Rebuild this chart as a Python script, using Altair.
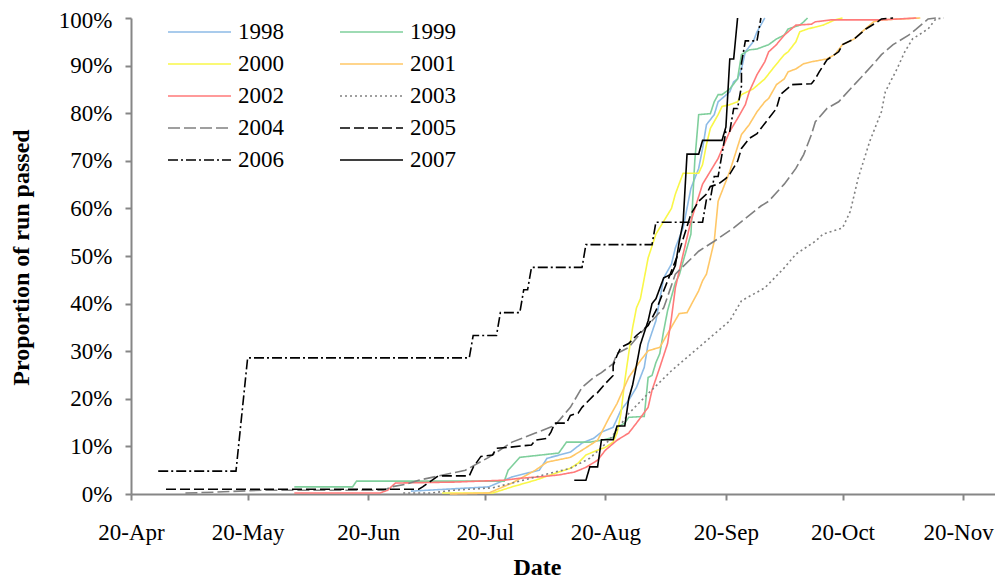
import altair as alt
import pandas as pd

SEASON_YEAR = 2001  # all runs plotted on a common season calendar

years = ["1998", "1999", "2000", "2001", "2002", "2003", "2004", "2005", "2006", "2007"]

# dates (MM-DD) and cumulative proportion of run passed (%)
d1998 = ["07-01", "07-21", "07-27", "08-03", "08-05", "08-11", "08-14", "08-17", "08-19", "08-22",
         "08-24", "08-26", "08-28", "08-30", "08-31", "09-02", "09-04", "09-06", "09-07", "09-09",
         "09-11", "09-13", "09-14", "09-15", "09-17", "09-18", "09-21", "09-22", "09-23", "09-24",
         "09-25", "09-27", "09-28", "09-30"]
p1998 = [0.6, 1.5, 3.6, 5.0, 7.5, 8.8, 10.7, 11.7, 13.0, 14.0,
         17.6, 19.7, 22.4, 26.6, 31.6, 36.4, 45.4, 48.3, 51.7, 55.9,
         64.2, 68.4, 72.6, 77.6, 79.7, 82.4, 84.5, 86.6, 87.2, 89.3,
         92.9, 95.0, 97.1, 100.0]

d1999 = ["06-01", "06-16", "06-17", "07-25", "07-26", "07-29", "08-08", "08-10", "08-16", "08-19",
         "08-22", "08-23", "08-25", "08-26", "08-30", "08-31", "09-01", "09-02", "09-03", "09-04",
         "09-05", "09-07", "09-08", "09-11", "09-12", "09-13", "09-16", "09-17", "09-18", "09-19",
         "09-21", "09-23", "09-24", "09-26", "09-28", "10-01", "10-03", "10-05", "10-06", "10-09",
         "10-10", "10-11"]
p1999 = [1.5, 1.5, 2.7, 2.7, 5.0, 7.7, 8.6, 10.9, 10.9, 11.3,
         11.9, 14.0, 14.9, 16.1, 16.3, 24.5, 24.9, 27.6, 29.5, 34.3,
         38.5, 44.4, 46.0, 54.6, 70.0, 79.7, 79.9, 82.4, 83.9, 83.9,
         85.1, 87.2, 92.3, 93.3, 93.5, 94.4, 95.6, 96.4, 97.7, 98.5,
         99.2, 100.0]

d2000 = ["07-09", "07-22", "07-27", "08-02", "08-08", "08-11", "08-13", "08-15", "08-18", "08-20",
         "08-22", "08-23", "08-24", "08-25", "08-26", "08-27", "08-28", "08-29", "08-31", "09-02",
         "09-06", "09-07", "09-09", "09-13", "09-14", "09-15", "09-16", "09-18", "09-19", "09-21",
         "09-23", "09-24", "09-27", "09-30", "10-02", "10-05", "10-06", "10-08", "10-09", "10-11",
         "10-13", "10-15", "10-18", "10-20"]
p2000 = [0.2, 0.2, 1.5, 2.9, 4.6, 5.4, 6.5, 8.2, 9.2, 9.8,
         10.9, 12.8, 16.9, 23.8, 29.5, 34.9, 39.1, 41.0, 49.6, 54.6,
         60.0, 63.0, 67.4, 67.4, 69.2, 73.4, 76.8, 79.7, 81.4, 81.8,
         82.4, 83.9, 85.1, 87.2, 89.3, 92.3, 92.9, 95.0, 97.1, 97.7,
         98.1, 98.5, 99.6, 100.0]

d2001 = ["07-11", "07-21", "07-27", "08-02", "08-05", "08-11", "08-14", "08-18", "08-21", "08-23",
         "08-26", "08-29", "08-31", "09-03", "09-05", "09-08", "09-10", "09-13", "09-14", "09-15",
         "09-17", "09-18", "09-21", "09-24", "09-26", "09-28", "09-30", "10-01", "10-03", "10-05",
         "10-06", "10-08", "10-10", "10-12", "10-16", "10-18", "10-20", "10-23", "10-25", "10-28",
         "10-30", "11-09"]
p2001 = [0.0, 0.2, 2.3, 5.0, 6.7, 7.7, 9.2, 11.3, 16.1, 19.0,
         24.5, 28.0, 30.1, 30.8, 33.7, 37.9, 38.1, 42.7, 44.8, 46.2,
         53.1, 61.5, 67.8, 75.5, 77.6, 80.3, 82.4, 83.1, 86.0, 87.2,
         88.7, 89.3, 90.4, 90.8, 91.4, 92.3, 94.4, 95.6, 97.1, 99.2,
         99.6, 100.0]

d2002 = ["06-01", "06-23", "06-25", "06-27", "07-12", "07-25", "07-29", "08-03", "08-08", "08-12",
         "08-15", "08-18", "08-20", "08-23", "08-26", "08-28", "08-31", "09-01", "09-03", "09-05",
         "09-06", "09-07", "09-09", "09-11", "09-14", "09-18", "09-21", "09-23", "09-25", "09-26",
         "09-28", "09-30", "10-01", "10-03", "10-05", "10-08", "10-12", "10-13", "10-17", "10-30",
         "11-08"]
p2002 = [0.2, 0.2, 0.8, 2.3, 2.5, 2.9, 3.3, 3.6, 4.0, 4.6,
         5.6, 7.1, 9.2, 11.3, 12.8, 14.9, 18.2, 21.8, 26.6, 31.6,
         37.0, 43.3, 50.4, 57.3, 65.1, 70.5, 76.2, 78.9, 81.8, 84.5,
         88.1, 90.8, 92.9, 94.4, 96.4, 98.5, 98.7, 99.2, 99.6, 99.6,
         100.0]

d2003 = ["06-29", "07-06", "07-12", "07-22", "07-28", "08-04", "08-11", "08-16", "08-21", "08-26",
         "08-31", "09-06", "09-12", "09-18", "09-21", "09-24", "09-30", "10-05", "10-08", "10-13",
         "10-15", "10-20", "10-22", "10-24", "10-27", "10-30", "10-31", "11-03", "11-05", "11-07",
         "11-11", "11-13", "11-15"]
p2003 = [0.2, 0.2, 0.8, 1.3, 2.5, 4.0, 5.4, 7.5, 11.3, 16.9,
         21.1, 25.9, 30.1, 34.3, 36.4, 40.6, 43.3, 47.5, 50.4, 53.1,
         54.6, 55.9, 59.4, 66.3, 74.1, 80.3, 84.5, 89.3, 92.9, 95.6,
         97.7, 99.8, 100.0]

d2004 = ["05-04", "05-12", "05-24", "06-24", "06-26", "06-30", "07-03", "07-07", "07-15", "07-21",
         "07-27", "08-02", "08-07", "08-11", "08-14", "08-17", "08-19", "08-22", "08-23", "08-26",
         "08-29", "09-01", "09-04", "09-07", "09-13", "09-17", "09-22", "09-29", "10-01", "10-05",
         "10-08", "10-10", "10-12", "10-13", "10-16", "10-19", "10-22", "10-25", "10-28", "10-30",
         "11-02", "11-06", "11-08", "11-11", "11-13"]
p2004 = [0.2, 0.4, 0.8, 0.8, 1.5, 2.1, 2.9, 3.6, 5.0, 7.7,
         10.9, 12.8, 14.4, 18.2, 22.4, 24.5, 25.5, 27.4, 29.5, 30.8,
         33.7, 36.4, 39.1, 46.2, 51.0, 53.1, 55.9, 60.5, 61.5, 65.1,
         68.4, 71.3, 75.5, 78.2, 81.0, 82.4, 85.1, 87.7, 90.4, 92.3,
         94.4, 96.4, 97.7, 99.8, 100.0]

d2005 = ["04-29", "07-03", "07-04", "07-08", "07-16", "07-17", "07-19", "07-22", "07-23", "07-26",
         "08-01", "08-02", "08-05", "08-06", "08-07", "08-10", "08-11", "08-13", "08-14", "08-17",
         "08-18", "08-20", "08-22", "08-22", "08-23", "08-24", "08-26", "08-28", "08-31", "09-02",
         "09-04", "09-08", "09-11", "09-13", "09-15", "09-16", "09-18", "09-20", "09-21", "09-23",
         "09-24", "09-26", "09-28", "09-29", "10-01", "10-03", "10-04", "10-07", "10-12", "10-13",
         "10-14", "10-16", "10-19", "10-20", "10-23", "10-26", "10-29", "10-30", "11-02"]
p2005 = [1.0, 1.0, 1.5, 3.8, 3.8, 5.6, 7.9, 8.2, 9.6, 9.8,
         10.3, 11.3, 11.7, 13.0, 14.9, 14.9, 16.5, 17.0, 18.2, 20.7,
         21.3, 23.2, 24.9, 27.0, 29.1, 30.8, 31.6, 33.3, 35.4, 38.5,
         42.7, 51.0, 58.8, 61.5, 63.0, 64.6, 65.1, 66.3, 67.2, 69.9,
         72.6, 74.7, 75.7, 76.8, 78.9, 81.0, 83.9, 86.0, 86.2, 87.2,
         88.7, 91.2, 92.9, 94.4, 95.6, 97.7, 99.2, 99.8, 100.0]

d2006 = ["04-27", "05-17", "05-20", "07-16", "07-17", "07-23", "07-24", "07-29", "07-30", "07-31",
         "08-01", "08-14", "08-15", "09-01", "09-02", "09-14", "09-15", "09-16", "09-17", "09-18",
         "09-19", "09-20", "09-21", "09-22", "09-23", "09-24", "09-24", "09-25", "09-28", "09-29"]
p2006 = [4.8, 4.8, 28.6, 28.6, 33.3, 33.3, 38.1, 38.1, 42.9, 42.9,
         47.6, 47.6, 52.4, 52.4, 57.1, 57.1, 61.9, 61.9, 66.7, 66.7,
         71.4, 76.2, 76.2, 81.0, 81.0, 85.7, 90.5, 95.2, 95.2, 100.0]

d2007 = ["08-12", "08-15", "08-16", "08-18", "08-19", "08-22", "08-23", "08-25", "08-26", "08-27",
         "08-28", "08-29", "08-31", "09-01", "09-02", "09-04", "09-06", "09-07", "09-08", "09-09",
         "09-10", "09-13", "09-14", "09-19", "09-20", "09-21", "09-22", "09-23"]
p2007 = [2.9, 2.9, 5.7, 5.7, 11.4, 11.4, 14.3, 14.3, 20.0, 22.9,
         27.0, 31.4, 36.4, 40.0, 41.0, 45.4, 46.2, 48.0, 53.0, 57.1,
         71.4, 71.4, 74.3, 74.3, 77.1, 91.4, 91.4, 100.0]

series = {
    "1998": (d1998, p1998), "1999": (d1999, p1999), "2000": (d2000, p2000),
    "2001": (d2001, p2001), "2002": (d2002, p2002), "2003": (d2003, p2003),
    "2004": (d2004, p2004), "2005": (d2005, p2005), "2006": (d2006, p2006),
    "2007": (d2007, p2007),
}

colors = ["#8dbbe6", "#7fcf9c", "#f9f748", "#ffc767", "#ff7a7a",
          "#808080", "#808080", "#000000", "#000000", "#000000"]
dashes = [[1, 0], [1, 0], [1, 0], [1, 0], [1, 0],
          [2, 3], [12, 4], [10, 4], [10, 3, 2, 3], [1, 0]]
widths = [1.6, 1.6, 1.6, 1.6, 1.6, 1.6, 2.2, 2.0, 2.0, 2.0]

tick_months = [4, 5, 6, 7, 8, 9, 10, 11]
y_ticks = [0, 0.1, 0.2, 0.3, 0.4, 0.5, 0.6, 0.7, 0.8, 0.9, 1.0]

rows = []
for yr, (ds, ps) in series.items():
    for i, (d, p) in enumerate(zip(ds, ps)):
        rows.append({"year": yr, "date": f"{SEASON_YEAR}-{d}T00:00:00", "prop": p / 100.0, "idx": i})
df = pd.DataFrame(rows)

FONT = "Times New Roman, Liberation Serif, Times, serif"

legend = alt.Legend(
    title=None, orient="none", legendX=36, legendY=3, columns=2, direction="horizontal",
    symbolType="stroke", symbolSize=3969, clipHeight=22,
    rowPadding=9, columnPadding=55, labelOffset=6, padding=0, symbolOffset=0,
    labelFont=FONT, labelFontSize=23, labelColor="black", labelLimit=0,
)

x_domain = [alt.DateTime(year=SEASON_YEAR, month=4, date=20),
            alt.DateTime(year=SEASON_YEAR, month=11, date=28, hours=5)]

chart = alt.Chart(df).mark_line().encode(
    x=alt.X("date:T",
            scale=alt.Scale(domain=x_domain, nice=False),
            axis=alt.Axis(values=[alt.DateTime(year=SEASON_YEAR, month=m, date=20) for m in tick_months],
                          format="%d-%b", title="Date", labelBaseline="alphabetic",
                          labelPadding=39, tickSize=6, labelFlush=False, labelOverlap=False,
                          labelFont=FONT, titleFont=FONT, labelFontSize=23,
                          labelOffset={"condition": {"test": "month(datum.value) === 10", "value": -5},
                                       "value": 0},
                          titleX=406, titleY=80, titleBaseline="alphabetic", titleAlign="center")),
    y=alt.Y("prop:Q",
            scale=alt.Scale(domain=[0, 1], nice=False),
            axis=alt.Axis(values=y_ticks, format=".0%", title="Proportion of run passed",
                          tickSize=6, labelPadding=13, labelFlush=False,
                          labelFont=FONT, titleFont=FONT,
                          labelOffset={"condition": {"test": "datum.value >= 1", "value": 2},
                                       "value": 0},
                          titleX=-110, titleY=239, titleAngle=270, titleBaseline="middle",
                          titleAlign="center")),
    color=alt.Color("year:O", scale=alt.Scale(domain=years, range=colors), legend=legend),
    strokeDash=alt.StrokeDash("year:O", scale=alt.Scale(domain=years, range=dashes), legend=legend),
    strokeWidth=alt.StrokeWidth("year:O", scale=alt.Scale(domain=years, range=widths), legend=legend),
    order=alt.Order("idx:Q"),
).properties(
    width=864, height=476,
    autosize=alt.AutoSizeParams(type="none"),
    padding={"left": 123, "top": 10, "right": 0, "bottom": 85},
).configure(font=FONT).configure_view(stroke=None).configure_axis(
    grid=False, domainColor="#868686", domainWidth=2, tickColor="#868686", tickWidth=2,
    labelFont=FONT, labelFontSize=23, labelColor="black",
    titleFont=FONT, titleFontSize=24, titleFontWeight="bold", titleColor="black",
)

chart.save("out.html", embed_options={"renderer": "svg", "actions": False})
